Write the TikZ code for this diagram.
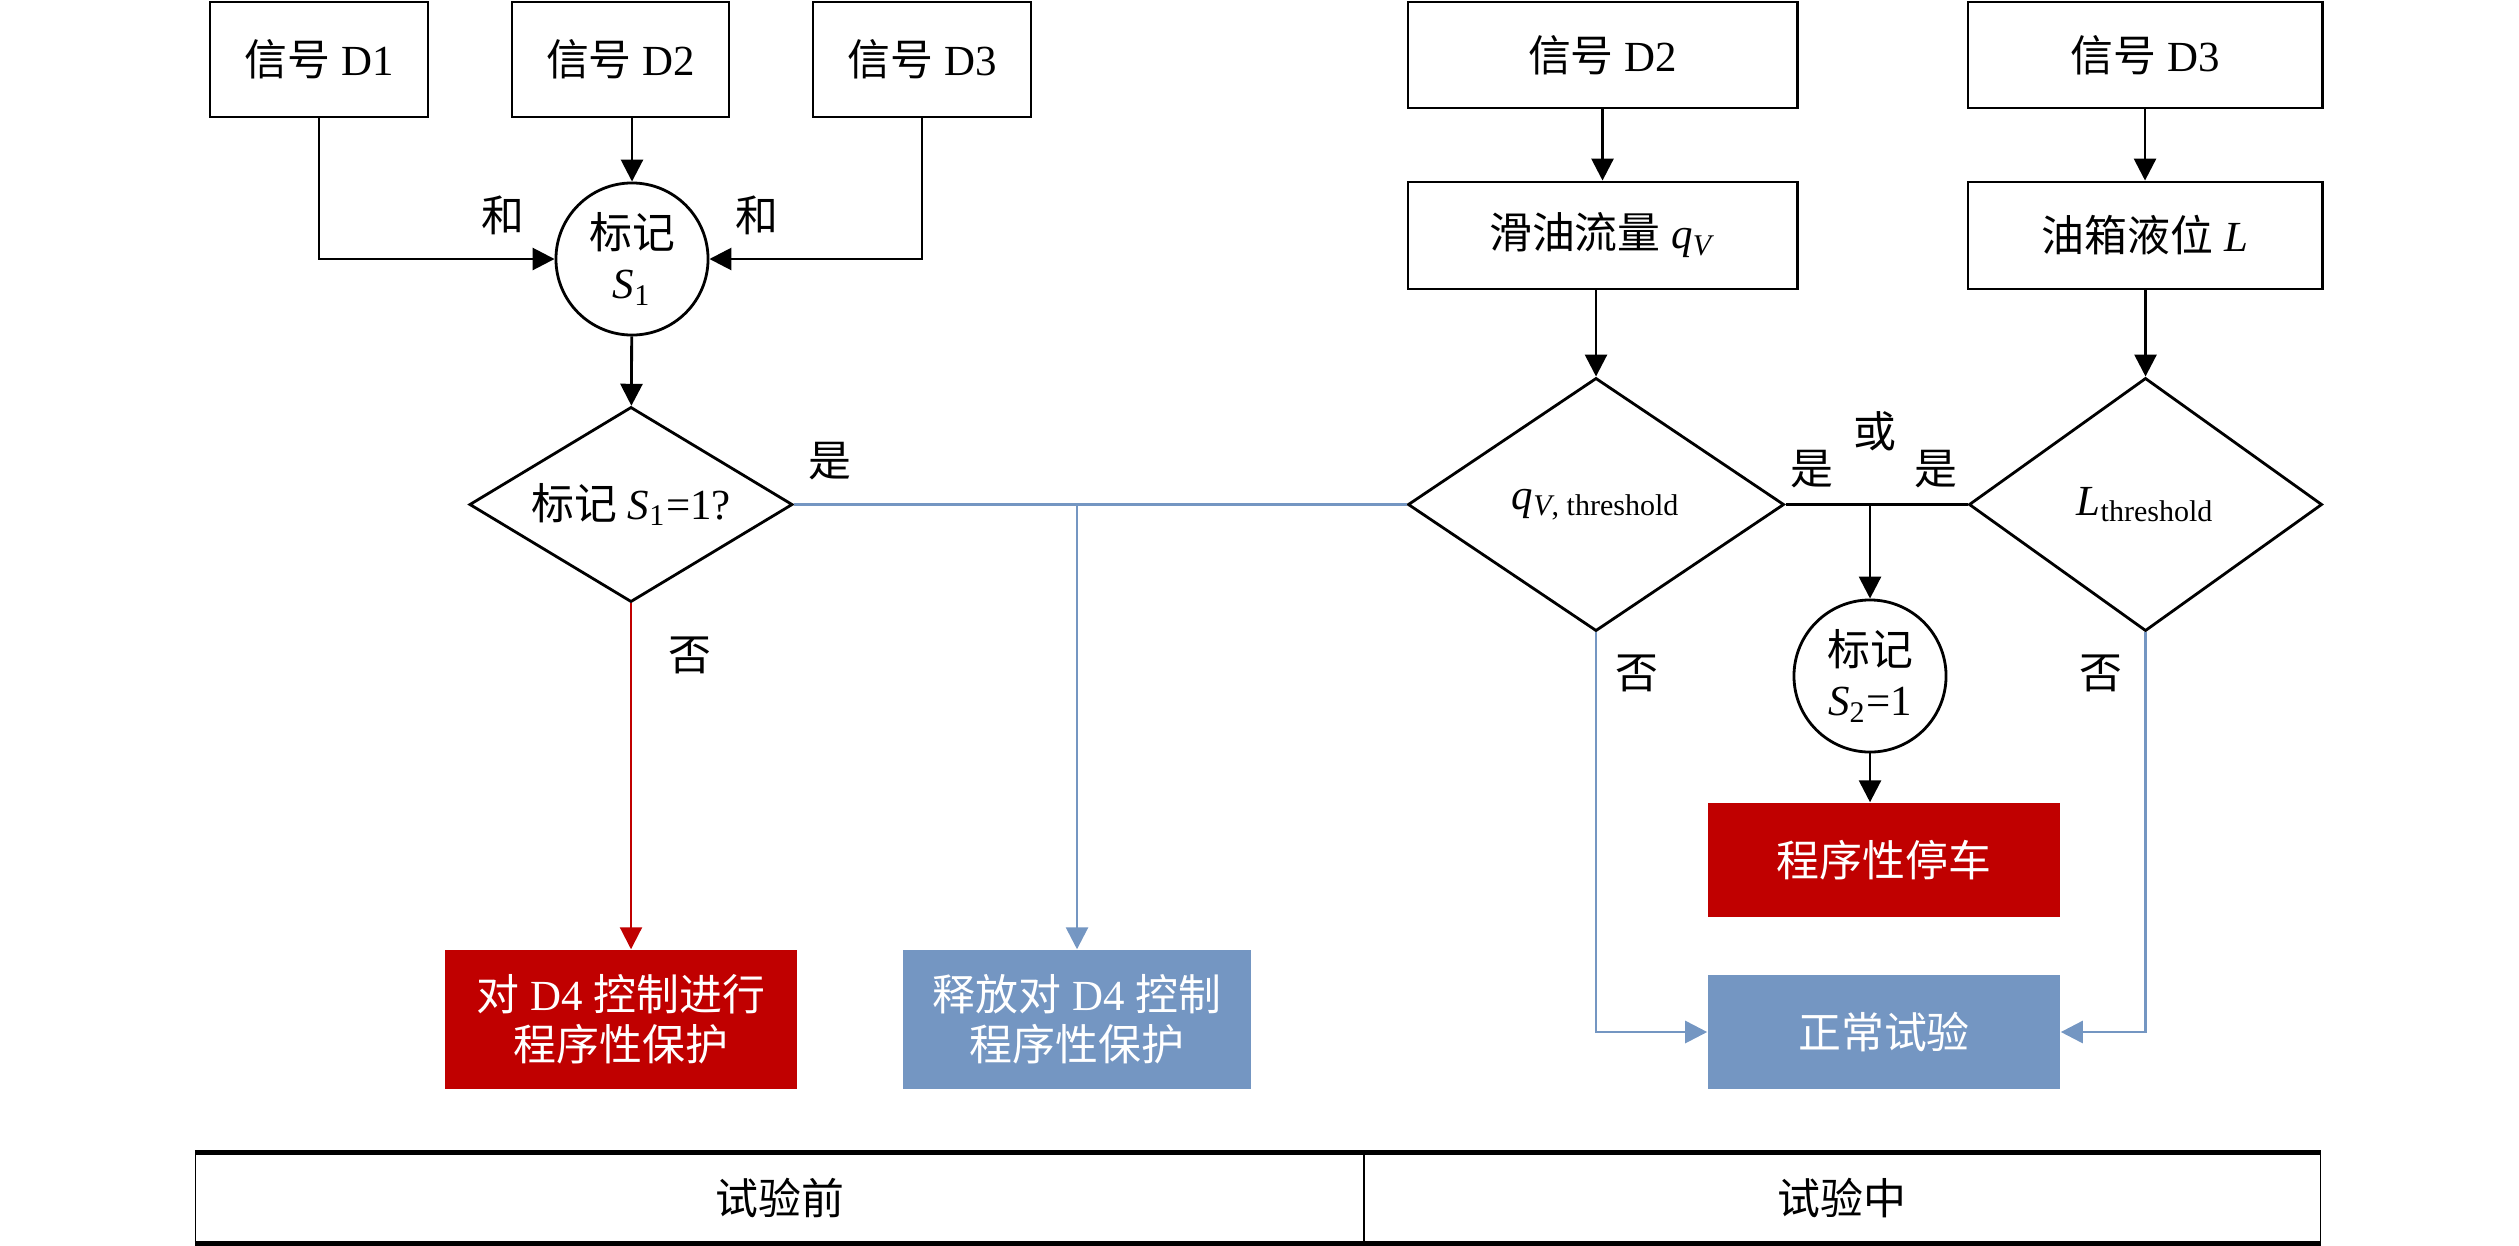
\documentclass[tikz,border=0pt]{standalone}
\usepackage{fontspec}
\setmainfont{Liberation Serif}
\newfontfamily\cjk{Noto Sans CJK SC}
\usepackage{tikz}
\usetikzlibrary{shapes.geometric,arrows.meta}

\definecolor{stopred}{RGB}{192,0,0}
\definecolor{normblue}{RGB}{116,150,194}
\newcommand{\zh}[1]{{\cjk #1}}

\begin{document}
\begin{tikzpicture}[x=0.01cm, y=-0.01cm, >={Triangle[length=2.2mm,width=2.2mm]},
					every node/.style={font=\fontsize{12.2}{14.2}\selectfont},
					signal/.style={draw, thick, minimum height=1.15cm, inner sep=0pt, align=center},
					flag/.style={draw, thick, circle, minimum size=1.52cm, inner sep=0pt, align=center},
					decision/.style={draw, thick, diamond, shape aspect=1.6, inner sep=0pt, align=center},
					action/.style={fill=#1, text=white, minimum width=3.52cm, inner sep=0pt, align=center},
					blue line/.style={thick, normblue},
					red line/.style={semithick, stopred}]
					\useasboundingbox (0,0) rectangle (2519,1245);
					
					% Before the test
					\node[signal, minimum width=2.18cm] (D1) at (319,59.5) {\zh{信号} D1};
					\node[signal, minimum width=2.17cm] (D2) at (620.5,59.5) {\zh{信号} D2};
					\node[signal, minimum width=2.18cm] (D3) at (922,59.5) {\zh{信号} D3};
					\node[flag] (S1) at (632,259) {\zh{标记}\\\textit{S}\textsubscript{1}};
					\node[decision, minimum width=3.23cm, minimum height=1.95cm] (Q1) at (631,504.5) {\zh{标记} \textit{S}\textsubscript{1}=1?};
					\node[action=stopred, minimum height=1.39cm] (P1) at (621,1019.5) {\zh{对} D4 \zh{控制进行}\\\zh{程序性保护}};
					\node[action=normblue, minimum width=3.48cm, minimum height=1.39cm] (P2) at (1077,1019.5) {\zh{释放对} D4 \zh{控制}\\\zh{程序性保护}};
					
					\draw[->,thick] (D1) |- (S1);
					\draw[->,thick] (D3) |- (S1);
					\draw[->,thick] (D2.south -| S1) -- (S1);
					\draw[->,thick] (S1) -- (Q1);
					\node (and1) at (503,215) {\zh{和}};
					\node (and2) at (757,215) {\zh{和}};
					
					% During the test
					\node[signal, minimum width=3.89cm, minimum height=1.06cm] (E2) at (1602.5,55) {\zh{信号} D2};
					\node[signal, minimum width=3.54cm, minimum height=1.06cm] (E3) at (2145,55) {\zh{信号} D3};
					\node[signal, minimum width=3.89cm, minimum height=1.07cm] (QV) at (1602.5,235.5) {\zh{滑油流量} \textit{q}\textsubscript{\textit{V}}};
					\node[signal, minimum width=3.54cm, minimum height=1.07cm] (LV) at (2145,235.5) {\zh{油箱液位} \textit{L}};
					\node[decision, minimum width=3.76cm, minimum height=2.53cm] (Q2) at (1596,504.5) {\textit{q}\textsubscript{\textit{V}, threshold}};
					\node[decision, minimum width=3.53cm, minimum height=2.53cm] (Q3) at (2145.5,504.5) {\textit{L}\textsubscript{threshold}};
					\node[flag] (S2) at (1870,676) {\zh{标记}\\\textit{S}\textsubscript{2}=1};
					\node[action=stopred, minimum height=1.14cm] (P3) at (1884,860) {\zh{程序性停车}};
					\node[action=normblue, minimum height=1.14cm] (P4) at (1884,1032) {\zh{正常试验}};
					
					\draw[->,thick] (E2) -- (QV);
					\draw[->,thick] (E3) -- (LV);
					\draw[->,thick] (QV.south -| Q2) -- (Q2);
					\draw[->,thick] (LV.south -| Q3) -- (Q3);
					\draw[thick] (Q2.east) -- (Q3.west);
					\coordinate (B2) at (1870,504.5);
					\draw[->,thick] (B2) -- (S2);
					\draw[->,thick] (S2) -- (S2 |- P3.north);
					\draw[->,blue line] (Q2.south) |- (P4.west);
					\draw[->,blue line] (Q3.south) |- (P4.east);
					
					% Branches of the first decision
					\coordinate (B1) at (1077,504.5);
					\draw[blue line] (Q1.east) -- (Q2.west);
					\draw[->,blue line] (B1) -- (P2);
					\draw[->,red line] (Q1.south) -- (Q1.south |- P1.north);
					
					% Labels
					\node (yes1) at (830,461) {\zh{是}};
					\node (no1) at (690,655) {\zh{否}};
					\node (or) at (1875,431) {\zh{或}};
					\node (yes2) at (1812,469) {\zh{是}};
					\node (yes3) at (1936,469) {\zh{是}};
					\node (no2) at (1637,673) {\zh{否}};
					\node (no3) at (2101,673) {\zh{否}};
					
					% Stage table
					\node[draw, minimum width=11.68cm, minimum height=0.9cm, inner sep=0pt] (T1) at (780,1198) {\zh{试验前}};
					\node[draw, minimum width=9.56cm, minimum height=0.9cm, inner sep=0pt] (T2) at (1842,1198) {\zh{试验中}};
					\draw[line width=1.4pt] (T1.north west) -- (T2.north east);
					\draw[line width=1.4pt] (T1.south west) -- (T2.south east);
				\end{tikzpicture}
\end{document}
